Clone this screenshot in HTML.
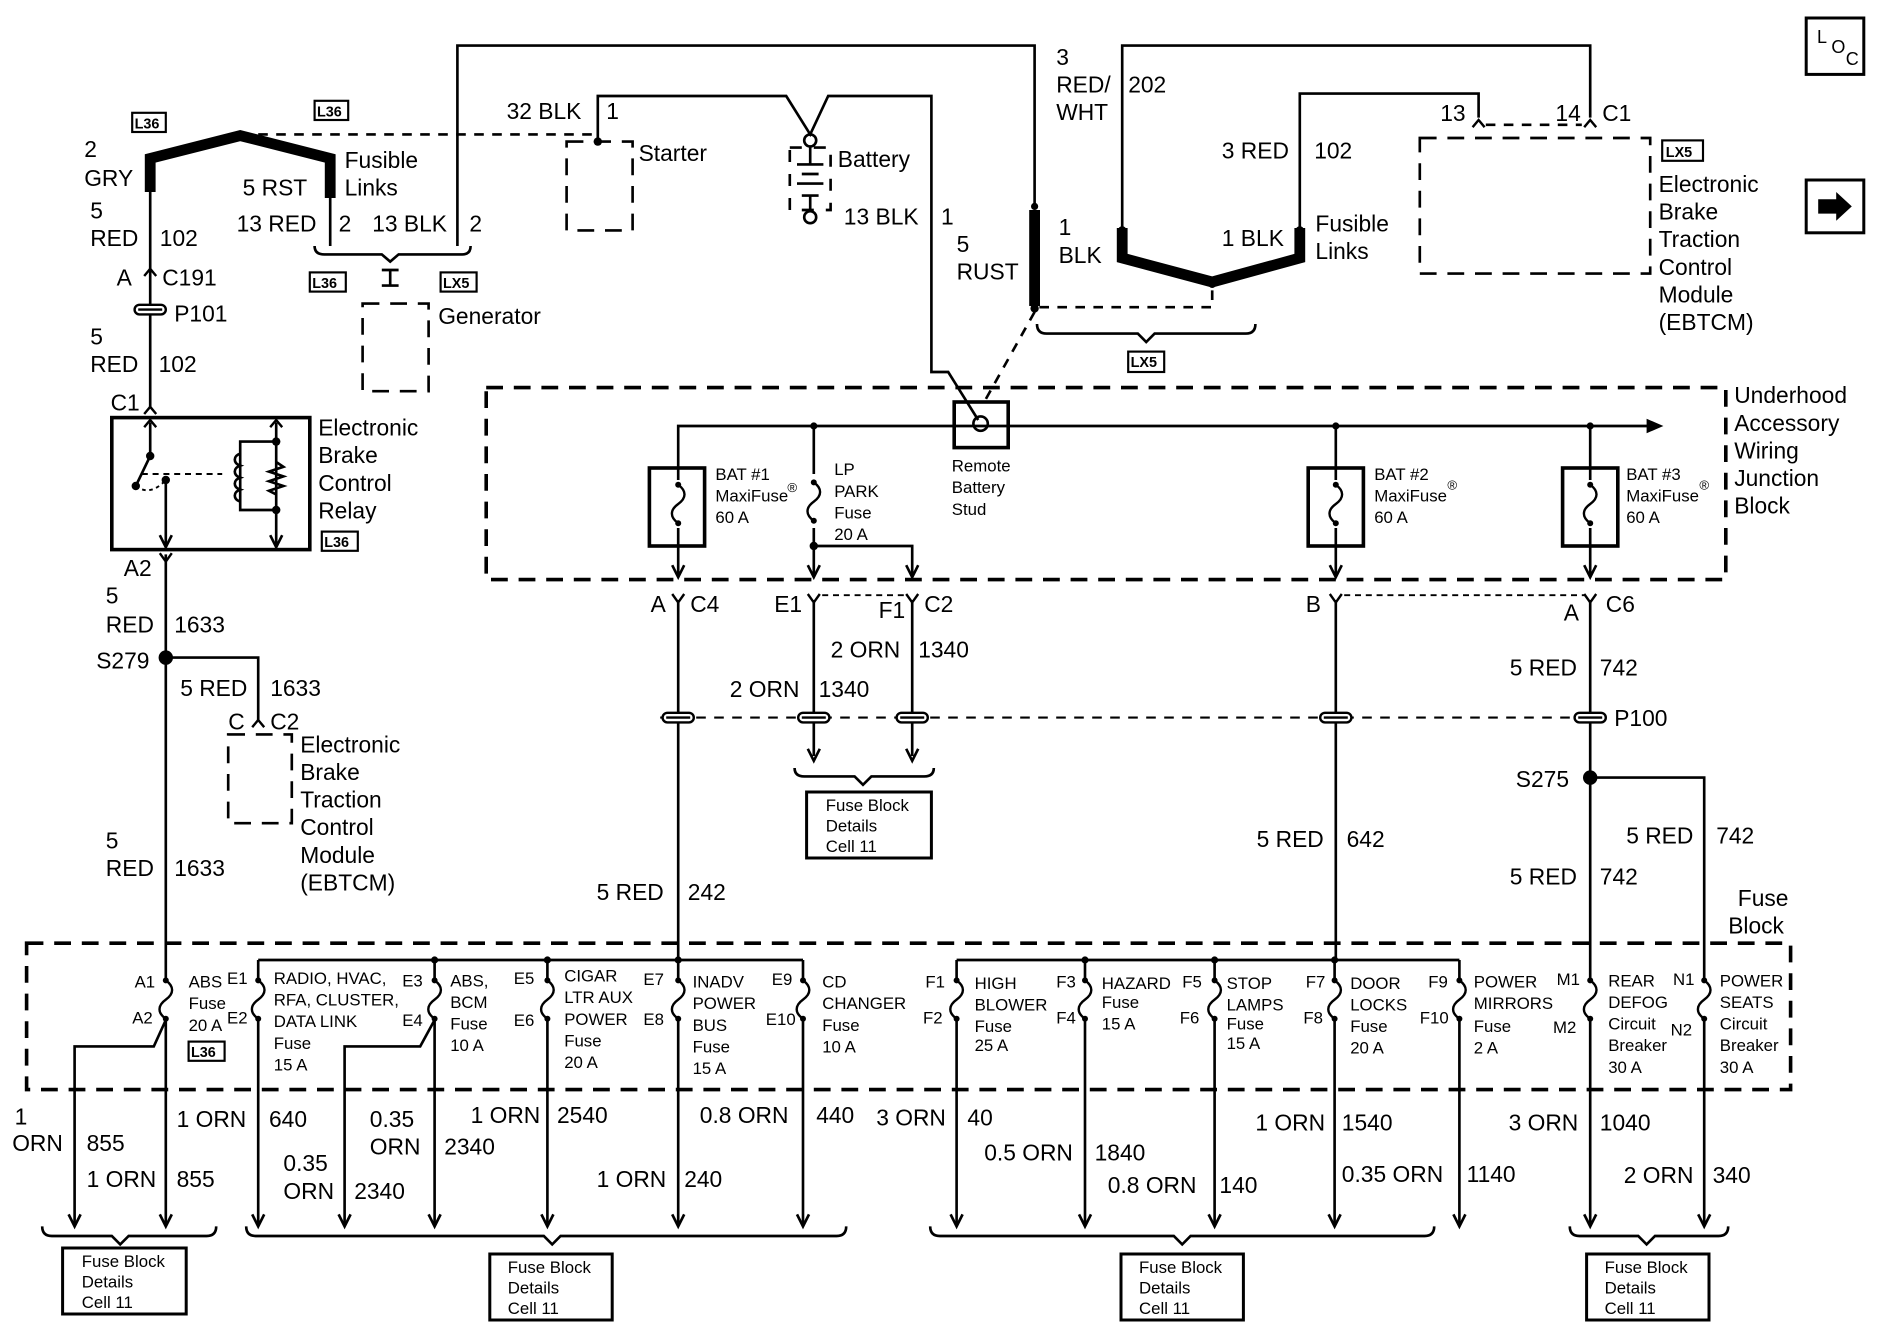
<!DOCTYPE html>
<html><head><meta charset="utf-8"><style>
html,body{margin:0;padding:0;background:#fff}
svg{display:block}
text{font-family:"Liberation Sans",sans-serif;fill:#000}
.t{font-size:19px}
.s{font-size:14px}
.x{font-size:12px}
</style></head><body>
<svg width="1882" height="1344" viewBox="0 0 1568 1120" xmlns="http://www.w3.org/2000/svg">
<defs>
<g id="fz"><path d="M0,-18 c7,5 7,11 0,16 c-7,5 -7,11 0,16" fill="none" stroke="#000" stroke-width="2"/><circle cx="0" cy="-18" r="2.5"/><circle cx="0" cy="14" r="2.5"/></g>
<path id="ad" d="M-5,-10 L0,0 L5,-10" fill="none" stroke="#000" stroke-width="2.2"/>
<path id="yc" d="M-5,-7 L0,0 L5,-7" fill="none" stroke="#000" stroke-width="2"/>
<path id="uc" d="M-5,6 L0,0 L5,6" fill="none" stroke="#000" stroke-width="2"/>
<g id="pl"><rect x="-13" y="-4" width="26" height="8" rx="4" fill="#fff" stroke="#000" stroke-width="2"/><line x1="-10" y1="0" x2="10" y2="0" stroke="#000" stroke-width="2"/></g>
</defs>
<g fill="none" stroke="#000" stroke-width="2.2">
<!-- top wires -->
<path d="M381,205 V38 H862 V170"/>
<path d="M498,118 V80 H655 L675,112 L690,80 H776 V310 H790 L815,350"/>
<path d="M935,192 V38 H1325 V98"/>
<path d="M1083,192 V78 H1232 V98"/>
<path d="M275,165 V205"/>
<!-- thick fusible links -->
<path d="M125,160 V132 L200,113 L275,132 V165" stroke-width="9"/>
<path d="M862,175 V255" stroke-width="9"/>
<path d="M935,190 V215 L1010,235 L1083,215 V190" stroke-width="9"/>
<path d="M200,112 H495" stroke-dasharray="8,7"/>
<path d="M866,256 H1010 V238" stroke-dasharray="8,7"/>
<path d="M862,260 L820,335" stroke-dasharray="8,7"/>
<path d="M1238,104 H1318" stroke-dasharray="8,7"/>
<!-- brackets -->
<path d="M262,205 Q262,212 270,212 H318 L325,218 L332,212 H385 Q392,212 392,205"/>
<path d="M864,270 Q864,278 872,278 H948 L955,285 L962,278 H1038 Q1046,278 1046,270"/>
<!-- generator -->
<path d="M325,238 V225 M318,225 H332 M318,238 H332"/>
<rect x="302" y="253" width="55" height="73" stroke-dasharray="14,9"/>
<!-- starter -->
<rect x="472" y="118" width="55" height="74" stroke-dasharray="14,9"/>
<!-- battery -->
<circle cx="675" cy="117" r="5"/><circle cx="675" cy="181" r="5"/>
<path d="M675,122 V137 M664,137 H686 M668,145 H682 M664,153 H686 M675,163 V176 M668,163 H682"/>
<rect x="658" y="123" width="34" height="52" stroke-dasharray="10,10"/>
<!-- EBTCM top right -->
<rect x="1183" y="115" width="192" height="113" stroke-dasharray="14,9"/>
<!-- left column -->
<path d="M125,160 V340"/>
<rect x="93" y="348" width="165" height="110" stroke-width="3"/>
<path d="M125,352 V380 L113,405"/>
<path d="M118,395 H185" stroke-dasharray="5,4" stroke-width="1.6"/>
<path d="M113,405 Q125,414 138,400" stroke-dasharray="3,3" stroke-width="1.6"/>
<path d="M138,400 V455"/>
<path d="M230,352 V455 M230,368 H200 V425 H230"/>
<path d="M200,378 c-6,2 -6,8 0,10 c-6,2 -6,8 0,10 c-6,2 -6,8 0,10 c-6,2 -6,8 0,10"/>
<path d="M230,385 l6,4 -12,4 12,4 -12,4 12,4 -12,4 6,3"/>
<path d="M138,462 V1020"/>
<path d="M138,548 H215 V600"/>
<rect x="190" y="612" width="53" height="74" stroke-dasharray="14,9"/>
<!-- underhood -->
<rect x="405" y="323" width="1033" height="160" stroke-dasharray="14,9" stroke-width="3"/>
<path d="M565,480 V355 H1375"/>
<rect x="795" y="335" width="45" height="38" stroke-width="3"/>
<circle cx="817" cy="353" r="6"/>
<rect x="541" y="390" width="46" height="65" stroke-width="3"/>
<rect x="1090" y="390" width="46" height="65" stroke-width="3"/>
<rect x="1302" y="390" width="46" height="65" stroke-width="3"/>
<path d="M678,355 V480 M678,455 H760 V480 M1113,355 V480 M1325,355 V480"/>
<!-- below junction -->
<path d="M565,500 V800 M678,500 V630 M760,500 V630 M1113,500 V800 M1325,500 V1020"/>
<path d="M685,496 H755 M1120,496 H1320" stroke-dasharray="5,4" stroke-width="1.6"/>
<path d="M550,598 H1320" stroke-dasharray="8,7" stroke-width="1.8"/>
<path d="M1325,648 H1420 V1020"/>
<path d="M662,640 Q662,647 670,647 H712 L719,654 L726,647 H770 Q778,647 778,640"/>
<rect x="672" y="660" width="104" height="55" stroke-width="2.5"/>
<!-- fuse block -->
<rect x="22" y="786" width="1470" height="122" stroke-dasharray="14,9" stroke-width="3"/>
<path d="M215,800 H669 M797,800 H1216"/>
<path d="M215,800 V1020 M362,800 V1020 M456,800 V1020 M565,800 V1020 M669,800 V1020"/>
<path d="M797,800 V1020 M904,800 V1020 M1012,800 V1020 M1112,800 V1020 M1216,800 V1020"/>
<path d="M138,850 L128,872 H62 V1020"/>
<path d="M362,850 L350,872 H287 V1020"/>
<!-- bottom brackets -->
<path d="M35,1022 Q35,1030 43,1030 H93 L100,1037 L107,1030 H172 Q180,1030 180,1022"/>
<path d="M205,1022 Q205,1030 213,1030 H453 L460,1037 L467,1030 H697 Q705,1030 705,1022"/>
<path d="M775,1022 Q775,1030 783,1030 H978 L985,1037 L992,1030 H1187 Q1195,1030 1195,1022"/>
<path d="M1308,1022 Q1308,1030 1316,1030 H1365 L1372,1037 L1379,1030 H1432 Q1440,1030 1440,1022"/>
<rect x="52" y="1040" width="103" height="55" stroke-width="2.5"/>
<rect x="408" y="1045" width="102" height="55" stroke-width="2.5"/>
<rect x="934" y="1045" width="102" height="55" stroke-width="2.5"/>
<rect x="1322" y="1045" width="102" height="55" stroke-width="2.5"/>
<!-- loc and arrow boxes -->
<rect x="1505" y="15" width="48" height="47" stroke-width="2.5"/>
<rect x="1505" y="150" width="48" height="44" stroke-width="2.5"/>
</g>
<path d="M1515,166 H1530 V160 L1543,172 L1530,184 V178 H1515 Z"/>
<path d="M1372,349 L1386,355 L1372,361 Z"/>
<!-- dots -->
<g>
<circle cx="498" cy="118" r="3.5"/><circle cx="862" cy="172" r="3"/><circle cx="862" cy="257" r="3.5"/>
<circle cx="935" cy="192" r="3.5"/><circle cx="1083" cy="192" r="3.5"/><circle cx="1010" cy="237" r="3"/>
<circle cx="200" cy="113" r="3"/>
<circle cx="125" cy="380" r="3.5"/><circle cx="113" cy="405" r="3.5"/><circle cx="138" cy="400" r="3.5"/>
<circle cx="230" cy="368" r="3.5"/><circle cx="230" cy="425" r="3.5"/>
<circle cx="138" cy="548" r="6"/><circle cx="1325" cy="648" r="6"/>
<circle cx="678" cy="355" r="3"/><circle cx="1113" cy="355" r="3"/><circle cx="1325" cy="355" r="3"/><circle cx="678" cy="455" r="3.5"/>
<circle cx="362" cy="800" r="3"/><circle cx="456" cy="800" r="3"/><circle cx="565" cy="800" r="3"/>
<circle cx="904" cy="800" r="3"/><circle cx="1012" cy="800" r="3"/><circle cx="1112" cy="800" r="3"/>
</g>
<!-- fuses -->
<g fill="#fff">
<rect x="560" y="400" width="10" height="40"/><rect x="673" y="395" width="10" height="45"/>
<rect x="1108" y="400" width="10" height="40"/><rect x="1320" y="400" width="10" height="40"/>
<rect x="133" y="815" width="10" height="35"/><rect x="210" y="815" width="10" height="35"/><rect x="357" y="815" width="10" height="35"/>
<rect x="451" y="815" width="10" height="35"/><rect x="560" y="815" width="10" height="35"/><rect x="664" y="815" width="10" height="35"/>
<rect x="792" y="815" width="10" height="35"/><rect x="899" y="815" width="10" height="35"/><rect x="1007" y="815" width="10" height="35"/>
<rect x="1107" y="815" width="10" height="35"/><rect x="1211" y="815" width="10" height="35"/><rect x="1320" y="815" width="10" height="35"/><rect x="1415" y="815" width="10" height="35"/>
</g>
<use href="#fz" x="565" y="422"/><use href="#fz" x="678" y="420"/><use href="#fz" x="1113" y="422"/><use href="#fz" x="1325" y="422"/>
<use href="#fz" x="138" y="835"/><use href="#fz" x="215" y="835"/><use href="#fz" x="362" y="835"/><use href="#fz" x="456" y="835"/>
<use href="#fz" x="565" y="835"/><use href="#fz" x="669" y="835"/><use href="#fz" x="797" y="835"/><use href="#fz" x="904" y="835"/>
<use href="#fz" x="1012" y="835"/><use href="#fz" x="1112" y="835"/><use href="#fz" x="1216" y="835"/><use href="#fz" x="1325" y="835"/><use href="#fz" x="1420" y="835"/>
<!-- arrows -->
<use href="#ad" x="565" y="481"/><use href="#ad" x="678" y="481"/><use href="#ad" x="760" y="481"/><use href="#ad" x="1113" y="481"/><use href="#ad" x="1325" y="481"/>
<use href="#ad" x="138" y="456"/><use href="#ad" x="230" y="456"/>
<use href="#uc" x="125" y="350"/><use href="#uc" x="230" y="350"/>
<use href="#ad" x="678" y="634"/><use href="#ad" x="760" y="634"/>
<g>
<use href="#ad" x="62" y="1022"/><use href="#ad" x="138" y="1022"/><use href="#ad" x="215" y="1022"/><use href="#ad" x="287" y="1022"/><use href="#ad" x="362" y="1022"/>
<use href="#ad" x="456" y="1022"/><use href="#ad" x="565" y="1022"/><use href="#ad" x="669" y="1022"/><use href="#ad" x="797" y="1022"/><use href="#ad" x="904" y="1022"/>
<use href="#ad" x="1012" y="1022"/><use href="#ad" x="1112" y="1022"/><use href="#ad" x="1216" y="1022"/><use href="#ad" x="1325" y="1022"/><use href="#ad" x="1420" y="1022"/>
</g>
<!-- connectors -->
<use href="#uc" x="125" y="224"/><use href="#uc" x="125" y="339"/><use href="#yc" x="138" y="468"/><use href="#uc" x="215" y="600"/>
<use href="#uc" x="1232" y="100"/><use href="#uc" x="1325" y="100"/>
<use href="#yc" x="565" y="502"/><use href="#yc" x="678" y="502"/><use href="#yc" x="760" y="502"/><use href="#yc" x="1113" y="502"/><use href="#yc" x="1325" y="502"/>
<use href="#pl" x="125" y="258"/>
<use href="#pl" x="565" y="598"/><use href="#pl" x="678" y="598"/><use href="#pl" x="760" y="598"/><use href="#pl" x="1113" y="598"/><use href="#pl" x="1325" y="598"/>
<!-- small option boxes -->
<g fill="none" stroke="#000" stroke-width="1.8">
<rect x="110" y="94" width="28" height="16"/><rect x="262" y="84" width="28" height="16"/>
<rect x="258" y="227" width="30" height="16"/><rect x="367" y="227" width="30" height="16"/>
<rect x="268" y="443" width="30" height="16"/><rect x="940" y="293" width="30" height="17"/>
<rect x="1385" y="117" width="34" height="17"/><rect x="157" y="868" width="30" height="16"/>
</g>
<g class="x" font-weight="bold">
<text x="112" y="107">L36</text><text x="264" y="97">L36</text><text x="260" y="240">L36</text><text x="369" y="240">LX5</text>
<text x="270" y="456">L36</text><text x="942" y="306">LX5</text><text x="1388" y="131">LX5</text><text x="159" y="881">L36</text>
</g>
<!-- labels -->
<g class="t">
<text x="70" y="131">2</text><text x="70" y="155">GRY</text>
<text x="202" y="163">5 RST</text><text x="287" y="140">Fusible</text><text x="287" y="163">Links</text>
<text x="197" y="193">13 RED</text><text x="282" y="193">2</text><text x="310" y="193">13 BLK</text><text x="391" y="193">2</text>
<text x="365" y="270">Generator</text>
<text x="75" y="182">5</text><text x="75" y="205">RED</text><text x="133" y="205">102</text>
<text x="97" y="238">A</text><text x="135" y="238">C191</text><text x="145" y="268">P101</text>
<text x="75" y="287">5</text><text x="75" y="310">RED</text><text x="132" y="310">102</text>
<text x="92" y="342">C1</text>
<text x="265" y="363">Electronic</text><text x="265" y="386">Brake</text><text x="265" y="409">Control</text><text x="265" y="432">Relay</text>
<text x="103" y="480">A2</text>
<text x="88" y="503">5</text><text x="88" y="527">RED</text><text x="145" y="527">1633</text>
<text x="80" y="557">S279</text>
<text x="150" y="580">5 RED</text><text x="225" y="580">1633</text>
<text x="190" y="608">C</text><text x="225" y="608">C2</text>
<text x="250" y="627">Electronic</text><text x="250" y="650">Brake</text><text x="250" y="673">Traction</text><text x="250" y="696">Control</text><text x="250" y="719">Module</text><text x="250" y="742">(EBTCM)</text>
<text x="88" y="707">5</text><text x="88" y="730">RED</text><text x="145" y="730">1633</text>
<text x="422" y="99">32 BLK</text><text x="505" y="99">1</text><text x="532" y="134">Starter</text><text x="698" y="139">Battery</text>
<text x="703" y="187">13 BLK</text><text x="784" y="187">1</text>
<text x="797" y="210">5</text><text x="797" y="233">RUST</text>
<text x="880" y="54">3</text><text x="880" y="77">RED/</text><text x="880" y="100">WHT</text><text x="940" y="77">202</text>
<text x="882" y="196">1</text><text x="882" y="219">BLK</text>
<text x="1018" y="132">3 RED</text><text x="1095" y="132">102</text><text x="1018" y="205">1 BLK</text>
<text x="1096" y="193">Fusible</text><text x="1096" y="216">Links</text>
<text x="1200" y="101">13</text><text x="1296" y="101">14</text><text x="1335" y="101">C1</text>
<text x="1382" y="160">Electronic</text><text x="1382" y="183">Brake</text><text x="1382" y="206">Traction</text><text x="1382" y="229">Control</text><text x="1382" y="252">Module</text><text x="1382" y="275">(EBTCM)</text>
<text x="1445" y="336">Underhood</text><text x="1445" y="359">Accessory</text><text x="1445" y="382">Wiring</text><text x="1445" y="405">Junction</text><text x="1445" y="428">Block</text>
<text x="542" y="510">A</text><text x="575" y="510">C4</text><text x="645" y="510">E1</text><text x="732" y="515">F1</text><text x="770" y="510">C2</text>
<text x="1088" y="510">B</text><text x="1303" y="517">A</text><text x="1338" y="510">C6</text>
<text x="692" y="548">2 ORN</text><text x="765" y="548">1340</text><text x="608" y="581">2 ORN</text><text x="682" y="581">1340</text>
<text x="1345" y="605">P100</text>
<text x="1258" y="563">5 RED</text><text x="1333" y="563">742</text>
<text x="1263" y="656">S275</text>
<text x="1355" y="703">5 RED</text><text x="1430" y="703">742</text>
<text x="1047" y="706">5 RED</text><text x="1122" y="706">642</text>
<text x="1258" y="737">5 RED</text><text x="1333" y="737">742</text>
<text x="497" y="750">5 RED</text><text x="573" y="750">242</text>
<text x="1448" y="755">Fuse</text><text x="1440" y="778">Block</text>
<text x="12" y="937">1</text><text x="10" y="959">ORN</text><text x="72" y="959">855</text>
<text x="72" y="989">1 ORN</text><text x="147" y="989">855</text>
<text x="147" y="939">1 ORN</text><text x="224" y="939">640</text>
<text x="308" y="939">0.35</text><text x="308" y="962">ORN</text><text x="370" y="962">2340</text>
<text x="236" y="976">0.35</text><text x="236" y="999">ORN</text><text x="295" y="999">2340</text>
<text x="392" y="936">1 ORN</text><text x="464" y="936">2540</text>
<text x="583" y="936">0.8 ORN</text><text x="680" y="936">440</text>
<text x="497" y="989">1 ORN</text><text x="570" y="989">240</text>
<text x="730" y="938">3 ORN</text><text x="806" y="938">40</text>
<text x="820" y="967">0.5 ORN</text><text x="912" y="967">1840</text>
<text x="923" y="994">0.8 ORN</text><text x="1016" y="994">140</text>
<text x="1046" y="942">1 ORN</text><text x="1118" y="942">1540</text>
<text x="1118" y="985">0.35 ORN</text><text x="1222" y="985">1140</text>
<text x="1257" y="942">3 ORN</text><text x="1333" y="942">1040</text>
<text x="1353" y="986">2 ORN</text><text x="1427" y="986">340</text>
</g>
<g font-size="15">
<text x="1514" y="36">L</text><text x="1526" y="44">O</text><text x="1538" y="54">C</text>
</g>
<g class="s">
<text x="596" y="400">BAT #1</text><text x="596" y="418">MaxiFuse</text><text x="656" y="410" font-size="11">®</text><text x="596" y="436">60 A</text>
<text x="695" y="396">LP</text><text x="695" y="414">PARK</text><text x="695" y="432">Fuse</text><text x="695" y="450">20 A</text>
<text x="793" y="393">Remote</text><text x="793" y="411">Battery</text><text x="793" y="429">Stud</text>
<text x="1145" y="400">BAT #2</text><text x="1145" y="418">MaxiFuse</text><text x="1206" y="408" font-size="11">®</text><text x="1145" y="436">60 A</text>
<text x="1355" y="400">BAT #3</text><text x="1355" y="418">MaxiFuse</text><text x="1416" y="408" font-size="11">®</text><text x="1355" y="436">60 A</text>
<text x="688" y="676">Fuse Block</text><text x="688" y="693">Details</text><text x="688" y="710">Cell 11</text>
<text x="68" y="1056">Fuse Block</text><text x="68" y="1073">Details</text><text x="68" y="1090">Cell 11</text>
<text x="423" y="1061">Fuse Block</text><text x="423" y="1078">Details</text><text x="423" y="1095">Cell 11</text>
<text x="949" y="1061">Fuse Block</text><text x="949" y="1078">Details</text><text x="949" y="1095">Cell 11</text>
<text x="1337" y="1061">Fuse Block</text><text x="1337" y="1078">Details</text><text x="1337" y="1095">Cell 11</text>
<text x="112" y="823">A1</text><text x="110" y="853">A2</text>
<text x="157" y="823">ABS</text><text x="157" y="841">Fuse</text><text x="157" y="859">20 A</text>
<text x="189" y="820">E1</text><text x="189" y="853">E2</text>
<text x="228" y="820">RADIO, HVAC,</text><text x="228" y="838">RFA, CLUSTER,</text><text x="228" y="856">DATA LINK</text><text x="228" y="874">Fuse</text><text x="228" y="892">15 A</text>
<text x="335" y="822">E3</text><text x="335" y="855">E4</text>
<text x="375" y="822">ABS,</text><text x="375" y="840">BCM</text><text x="375" y="858">Fuse</text><text x="375" y="876">10 A</text>
<text x="428" y="820">E5</text><text x="428" y="855">E6</text>
<text x="470" y="818">CIGAR</text><text x="470" y="836">LTR AUX</text><text x="470" y="854">POWER</text><text x="470" y="872">Fuse</text><text x="470" y="890">20 A</text>
<text x="536" y="821">E7</text><text x="536" y="854">E8</text>
<text x="577" y="823">INADV</text><text x="577" y="841">POWER</text><text x="577" y="859">BUS</text><text x="577" y="877">Fuse</text><text x="577" y="895">15 A</text>
<text x="643" y="821">E9</text><text x="638" y="854">E10</text>
<text x="685" y="823">CD</text><text x="685" y="841">CHANGER</text><text x="685" y="859">Fuse</text><text x="685" y="877">10 A</text>
<text x="771" y="823">F1</text><text x="769" y="853">F2</text>
<text x="812" y="824">HIGH</text><text x="812" y="842">BLOWER</text><text x="812" y="860">Fuse</text><text x="812" y="876">25 A</text>
<text x="880" y="823">F3</text><text x="880" y="853">F4</text>
<text x="918" y="824">HAZARD</text><text x="918" y="840">Fuse</text><text x="918" y="858">15 A</text>
<text x="985" y="823">F5</text><text x="983" y="853">F6</text>
<text x="1022" y="824">STOP</text><text x="1022" y="842">LAMPS</text><text x="1022" y="858">Fuse</text><text x="1022" y="874">15 A</text>
<text x="1088" y="823">F7</text><text x="1086" y="853">F8</text>
<text x="1125" y="824">DOOR</text><text x="1125" y="842">LOCKS</text><text x="1125" y="860">Fuse</text><text x="1125" y="878">20 A</text>
<text x="1190" y="823">F9</text><text x="1183" y="853">F10</text>
<text x="1228" y="823">POWER</text><text x="1228" y="841">MIRRORS</text><text x="1228" y="860">Fuse</text><text x="1228" y="878">2 A</text>
<text x="1297" y="821">M1</text><text x="1294" y="861">M2</text>
<text x="1340" y="822">REAR</text><text x="1340" y="840">DEFOG</text><text x="1340" y="858">Circuit</text><text x="1340" y="876">Breaker</text><text x="1340" y="894">30 A</text>
<text x="1394" y="821">N1</text><text x="1392" y="863">N2</text>
<text x="1433" y="822">POWER</text><text x="1433" y="840">SEATS</text><text x="1433" y="858">Circuit</text><text x="1433" y="876">Breaker</text><text x="1433" y="894">30 A</text>
</g>
</svg>
</body></html>
